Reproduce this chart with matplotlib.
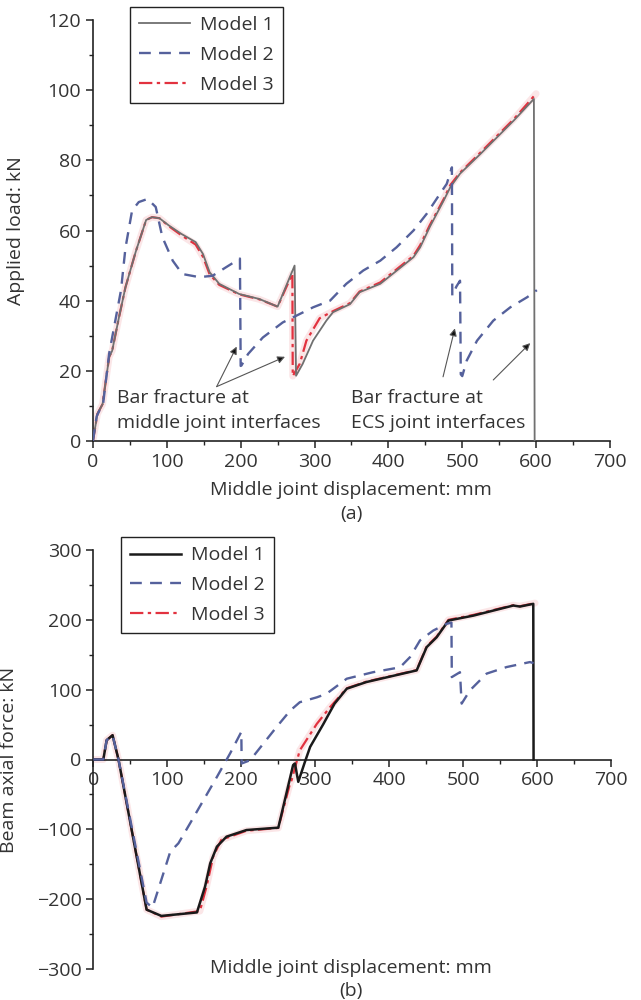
import numpy as np
import matplotlib
matplotlib.use("Agg")
import matplotlib.pyplot as plt
from matplotlib.ticker import MultipleLocator

plt.rcParams['font.family'] = ['Open Sans', 'DejaVu Sans']

# (a) applied load vs middle joint displacement
load_x1 = [0, 6, 13, 22, 26, 35, 44, 58, 72, 80, 90, 103, 120, 139, 149, 158, 171, 198, 225, 250,
           273, 275, 284, 298, 316, 325, 348, 361, 389, 434, 443, 456, 475, 484, 497, 525, 570, 597, 598]
load_y1 = [0, 7.7, 10.5, 24, 25.7, 35, 43.8, 54, 63, 63.8, 63.5, 61.4, 59, 56.7, 53.3, 48.1, 44.8, 41.9, 40.5, 38.3,
           50, 18.6, 22, 28.6, 34.3, 36.7, 39, 42.4, 44.8, 52.4, 55.2, 61, 68.6, 72.4, 76.2, 81.9, 91.4, 97.5, 0]
load_x2 = [0, 5, 14, 22, 30, 38, 44, 53, 62, 74, 85, 94, 108, 121, 144, 162, 180, 199, 200, 201, 210, 230,
           257, 280, 298, 321, 343, 366, 389, 411, 434, 452, 470, 479, 486, 486.5, 492, 497, 498, 500, 506,
           520, 542, 565, 588, 601]
load_y2 = [0, 7, 11, 25, 34, 43, 55, 65.7, 68.1, 69, 66.7, 58.1, 51.4, 47.6, 46.7, 47.1, 49.5, 52, 21.4, 21.5,
           24.8, 29.5, 33.8, 36.2, 38.1, 40, 44.8, 48.6, 51.4, 55.2, 60, 64.8, 70.5, 73.3, 78, 41.4, 44, 45.7,
           19, 18.5, 22.9, 28.6, 34.3, 38.1, 41, 43]
load_x3 = [0, 6, 13, 22, 26, 35, 44, 58, 72, 80, 90, 103, 120, 139, 149, 158, 171, 198, 225, 250,
           270, 270.5, 280, 289, 307, 325, 348, 361, 389, 434, 443, 456, 475, 484, 497, 525, 570, 600]
load_y3 = [0, 7.7, 10.5, 24, 25.7, 35, 43.8, 54, 63, 63.8, 63.5, 61.2, 58.6, 56, 52.5, 47.5, 44.5, 41.8, 40.4, 38.3,
           47.7, 18.5, 22, 28.6, 35, 37, 39.3, 42.6, 45.2, 52.8, 55.8, 61.5, 69, 73, 76.5, 82.3, 91.8, 99]

# (b) beam axial force vs middle joint displacement
axial_x1 = [0, 13.5, 18, 26, 34, 72, 92, 140, 151, 158, 167, 180, 207, 250, 270, 272.5, 277, 286, 293,
            311, 326, 342.5, 369, 437, 450.5, 464, 480, 513.5, 567.6, 576.6, 594.6, 595]
axial_y1 = [0, 0, 27.6, 34.8, 0, -215, -224, -219, -182, -148.6, -124.8, -110.5, -101, -97.6, -8, -5.7, -32,
            -3.3, 18, 51, 80, 101.4, 110.9, 127.6, 160.9, 175, 199, 206, 220.5, 219, 222.9, 0]
axial_x2 = [0, 13.5, 18, 26, 34, 72, 80, 92, 104, 115, 131, 149, 167, 185, 200, 200.5, 212, 230, 248, 266,
            279, 302, 315, 342.5, 378, 414.5, 428, 441.5, 459.5, 477.5, 484, 484.5, 495.5, 497.8, 509,
            531.6, 558.6, 590, 595]
axial_y2 = [0, 0, 27.6, 34.8, 0, -205, -212, -172, -132, -120, -91, -58, -25, 9, 39.5, -5.7, -1, 23, 47, 70,
            82, 89, 94, 115.7, 125, 132, 146.6, 170.5, 184.7, 194.3, 196, 118, 125, 80, 99,
            123, 132.4, 139.5, 138]
axial_x3 = [0, 13.5, 18, 26, 34, 72, 92, 144, 153, 162, 173, 207, 250, 266, 268, 279, 302, 320, 342.5, 369,
            437, 450.5, 464, 480, 513.5, 567.6, 576.6, 597]
axial_y3 = [0, 0, 27.6, 34.8, 0, -215, -225, -217, -182, -139, -115, -102, -98, -34, -29.5, 13, 51, 75, 102,
            111.5, 128, 162, 176, 200, 207, 221, 219.5, 224]

labels = ["Model 1", "Model 2", "Model 3"]
text_color = "#333333"
blue = "#55619c"
red = "#e2323f"
FS = 14


def style_axes(ax):
    for side in ["top", "right"]:
        ax.spines[side].set_visible(False)
    for side in ["left", "bottom"]:
        ax.spines[side].set_linewidth(1.2)
        ax.spines[side].set_color("#222222")
    ax.tick_params(which="major", direction="out", length=5, width=1.1, colors="#222222",
                   labelsize=FS, labelcolor=text_color)
    ax.tick_params(which="minor", direction="out", length=3, width=1.0, colors="#222222")
    ax.xaxis.set_major_locator(MultipleLocator(100))
    ax.xaxis.set_minor_locator(MultipleLocator(50))
    ax.set_xlim(0, 700)


def draw_models(ax, xs, ys, model1_color, model1_lw):
    ax.plot(xs[2], ys[2], color=red, lw=5, alpha=0.12, solid_capstyle="round", zorder=1)
    l3, = ax.plot(xs[2], ys[2], color=red, lw=1.6, dashes=(6, 2, 1.5, 2), zorder=2, label=labels[2])
    l1, = ax.plot(xs[0], ys[0], color=model1_color, lw=model1_lw, zorder=3, label=labels[0])
    l2, = ax.plot(xs[1], ys[1], color=blue, lw=1.7, dashes=(5, 3.5), zorder=4, label=labels[1])
    return [l1, l2, l3]


def add_legend(ax, handles, anchor):
    leg = ax.legend(handles=handles, loc="upper left", bbox_to_anchor=anchor, borderaxespad=0,
                    fontsize=FS, frameon=True, fancybox=False, framealpha=1, edgecolor="#222222",
                    handlelength=2.6, handletextpad=0.5, borderpad=0.48, labelspacing=0.6)
    leg.get_frame().set_linewidth(1.0)
    for t in leg.get_texts():
        t.set_color(text_color)


fig = plt.figure(figsize=(6.41, 10), dpi=100)

# panel (a)
ax1 = fig.add_axes([0.145, 0.559, 0.8066, 0.421])
style_axes(ax1)
ax1.set_ylim(0, 120)
ax1.yaxis.set_major_locator(MultipleLocator(20))
ax1.yaxis.set_minor_locator(MultipleLocator(10))
handles = draw_models(ax1, [load_x1, load_x2, load_x3], [load_y1, load_y2, load_y3], "#707070", 1.3)
add_legend(ax1, handles, (0.0716, 1.031))
ax1.set_ylabel("Applied load: kN", fontsize=FS, color=text_color)
ax1.yaxis.set_label_coords(-0.131, 0.5)

ax1.text(32, 12.3, "Bar fracture at", fontsize=FS, color=text_color, va="center", ha="left")
ax1.text(32, 5.1, "middle joint interfaces", fontsize=FS, color=text_color, va="center", ha="left")
ax1.text(350, 12.3, "Bar fracture at", fontsize=FS, color=text_color, va="center", ha="left")
ax1.text(350, 5.1, "ECS joint interfaces", fontsize=FS, color=text_color, va="center", ha="left")
arrow = dict(arrowstyle="-|>", color="#555555", lw=0.8, mutation_scale=11, shrinkA=0, shrinkB=0)
for tail, head in [((167.5, 15.5), (194.6, 26.9)), ((167.5, 15.5), (260, 24)),
                   ((474, 18.3), (490, 32.1)), ((542, 17.4), (592, 27.9))]:
    a = ax1.annotate("", xy=head, xytext=tail, arrowprops=arrow)
    a.arrow_patch.set_facecolor("#111111")

fig.text(0.548, 0.51, "Middle joint displacement: mm", fontsize=FS, color=text_color, ha="center", va="center")
fig.text(0.548, 0.486, "(a)", fontsize=FS, color=text_color, ha="center", va="center")

# panel (b)
ax2 = fig.add_axes([0.1456, 0.031, 0.808, 0.419])
style_axes(ax2)
ax2.spines["bottom"].set_position(("data", 0))
ax2.set_ylim(-300, 300)
ax2.yaxis.set_major_locator(MultipleLocator(100))
ax2.yaxis.set_minor_locator(MultipleLocator(50))
handles = draw_models(ax2, [axial_x1, axial_x2, axial_x3], [axial_y1, axial_y2, axial_y3], "#1a1a1a", 1.8)
add_legend(ax2, handles, (0.0535, 1.031))
ax2.set_ylabel("Beam axial force: kN", fontsize=FS, color=text_color)
ax2.yaxis.set_label_coords(-0.145, 0.5)

fig.text(0.548, 0.032, "Middle joint displacement: mm", fontsize=FS, color=text_color, ha="center", va="center")
fig.text(0.548, 0.009, "(b)", fontsize=FS, color=text_color, ha="center", va="center")

fig.savefig("out.png", dpi=100)
